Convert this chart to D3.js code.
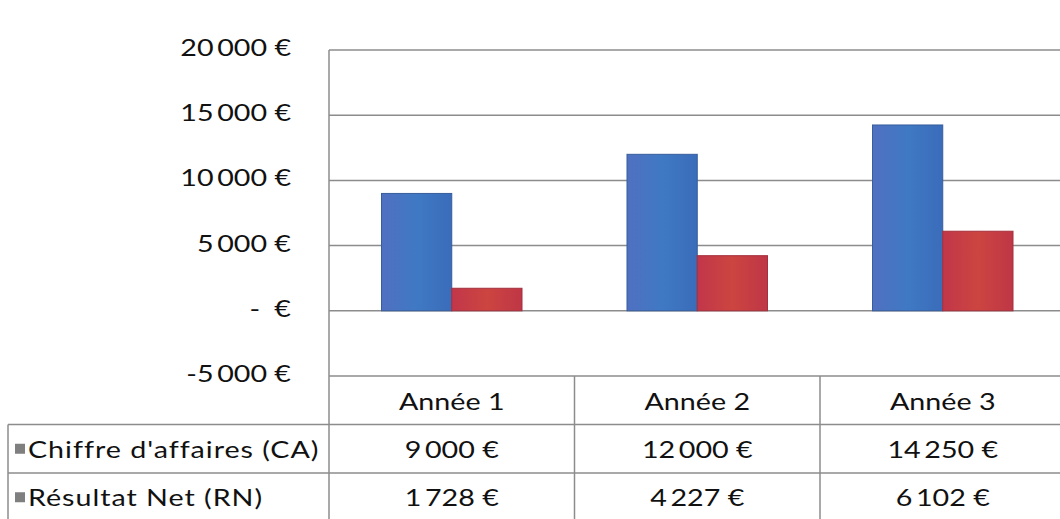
<!DOCTYPE html>
<html>
<head>
<meta charset="utf-8">
<script src="https://cdn.jsdelivr.net/npm/d3@7"></script>
<style>
  body { margin: 0; background: #fff; }
  svg { display: block; }
  text { font-family: Lato, "Open Sans", sans-serif; fill: #111; }
</style>
</head>
<body>
<div id="chart"></div>
<script>
// data
const categories = ["Année 1", "Année 2", "Année 3"];
const seriesNames = ["Chiffre d'affaires (CA)", "Résultat Net (RN)"];
const caValues = [9000, 12000, 14250];
const rnValues = [1728, 4227, 6102];
const yTicks = [-5000, 0, 5000, 10000, 15000, 20000];

const W = 1060, H = 519;
const plotLeft = 329, plotTop = 50, plotBottom = 376;
const colW = 245.5;
const rowH = 48.5;
const legendLeft = 8;
const grid = "#8c8c8c";
const sx = 1.22; // reference text is stretched horizontally

const fmtNum = d3.formatLocale({ decimal: ",", thousands: "\u2009", grouping: [3], minus: "-" }).format(",d");
const fmtEuro = v => v === 0 ? "-\u2002€" : fmtNum(v) + " €";

const svg = d3.select("#chart").append("svg").attr("width", W).attr("height", H);

const defs = svg.append("defs");
function grad(id, stops) {
  const g = defs.append("linearGradient").attr("id", id).attr("x1", 0).attr("x2", 1).attr("y1", 0).attr("y2", 0);
  stops.forEach(s => g.append("stop").attr("offset", s[0]).attr("stop-color", s[1]));
}
grad("gBlue", [[0, "#5070c0"], [0.5, "#3f79c4"], [1, "#3a6cba"]]);
grad("gRed", [[0, "#c2364a"], [0.5, "#cc4540"], [1, "#bf3646"]]);
const fills = ["url(#gBlue)", "url(#gRed)"];
const strokes = ["#365d9c", "#a3303c"];

// scales
const x = d3.scaleBand().domain(categories).range([plotLeft, plotLeft + colW * categories.length]);
const xs = d3.scaleBand().domain(seriesNames).range([52.5, 193]);
const y = d3.scaleLinear().domain([-5000, 20000]).range([plotBottom, plotTop]);

// stretched text helper
function label(g, tx, ty, str, anchor) {
  return g.append("text")
    .attr("transform", `translate(${tx},${ty}) scale(${sx},1)`)
    .attr("text-anchor", anchor)
    .attr("dominant-baseline", "central")
    .style("font-size", "23.5px")
    .style("white-space", "pre")
    .text(str);
}

// gridlines
svg.append("g").selectAll("line").data(yTicks.filter(d => d > -5000)).join("line")
  .attr("x1", plotLeft).attr("x2", W)
  .attr("y1", d => y(d)).attr("y2", d => y(d))
  .attr("stroke", grid).attr("stroke-width", 1.5);

// y axis labels
const yg = svg.append("g");
yTicks.forEach(t => label(yg, 291, y(t) - 3, fmtEuro(t), "end"));

// bars
const series = [caValues, rnValues];
const bars = svg.append("g");
series.forEach((vals, si) => {
  bars.selectAll(null).data(vals).join("rect")
    .attr("x", (d, i) => x(categories[i]) + xs(seriesNames[si]))
    .attr("width", xs.bandwidth())
    .attr("y", d => y(d))
    .attr("height", d => y(0) - y(d))
    .attr("fill", fills[si])
    .attr("stroke", strokes[si])
    .attr("stroke-width", 1);
});

// table lines
const tg = svg.append("g").attr("stroke", grid).attr("stroke-width", 1.5);
tg.append("line").attr("x1", plotLeft).attr("x2", plotLeft).attr("y1", plotTop).attr("y2", H);
tg.append("line").attr("x1", plotLeft).attr("x2", W).attr("y1", plotBottom).attr("y2", plotBottom);
categories.forEach((c, i) => {
  if (i > 0) tg.append("line").attr("x1", x(c)).attr("x2", x(c)).attr("y1", plotBottom).attr("y2", H);
});
[1, 2].forEach(r => {
  tg.append("line").attr("x1", legendLeft).attr("x2", W)
    .attr("y1", plotBottom + rowH * r).attr("y2", plotBottom + rowH * r);
});
tg.append("line").attr("x1", legendLeft).attr("x2", legendLeft).attr("y1", plotBottom + rowH).attr("y2", H);

// table text
const txt = svg.append("g");
categories.forEach(c => label(txt, x(c) + x.bandwidth() / 2, plotBottom + rowH / 2 + 1, c, "middle"));
series.forEach((vals, si) => {
  const cy = plotBottom + rowH * (si + 1) + rowH / 2;
  svg.append("rect").attr("x", 15).attr("y", cy - 5).attr("width", 10).attr("height", 10).attr("fill", "#7f7f7f");
  label(txt, 28, cy, seriesNames[si], "start").style("letter-spacing", "0.8px");
  vals.forEach((v, i) => label(txt, x(categories[i]) + x.bandwidth() / 2, cy, fmtEuro(v), "middle"));
});
</script>
</body>
</html>
